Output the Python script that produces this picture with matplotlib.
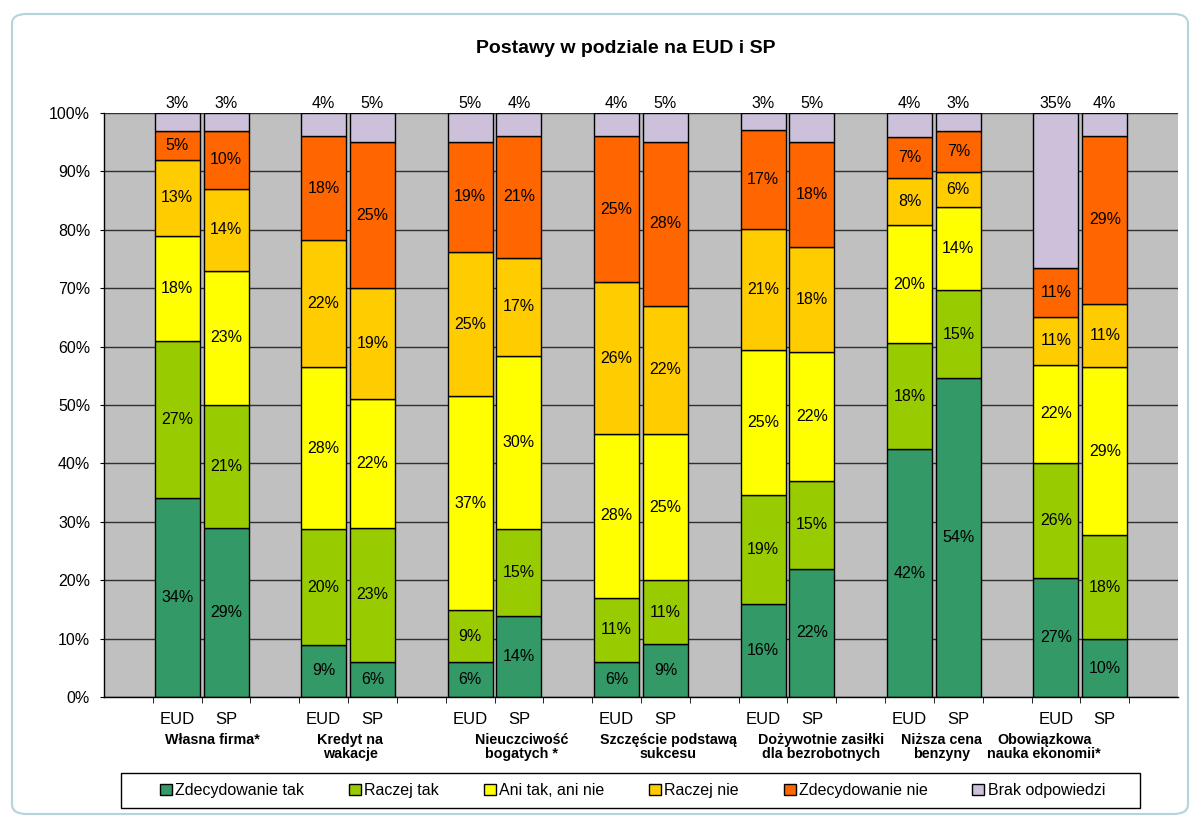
import numpy as np
import matplotlib.pyplot as plt
from matplotlib.patches import Patch, Rectangle, FancyBboxPatch

plt.rcParams['font.family'] = ['Liberation Sans', 'DejaVu Sans']

# dane
kategorie = ['Własna firma*', 'Kredyt na\nwakacje', 'Nieuczciwość\nbogatych *',
             'Szczęście podstawą\nsukcesu', 'Dożywotnie zasiłki\ndla bezrobotnych',
             'Niższa cena\nbenzyny', 'Obowiązkowa\nnauka ekonomii*']
grupy = ['EUD', 'SP']
odpowiedzi = ['Zdecydowanie tak', 'Raczej tak', 'Ani tak, ani nie',
              'Raczej nie', 'Zdecydowanie nie', 'Brak odpowiedzi']

# kolejnosc wartosci jak w odpowiedzi (od dolu do gory)
eud = [[34, 27, 18, 13, 5, 3],
       [9, 20, 28, 22, 18, 4],
       [6, 9, 37, 25, 19, 5],
       [6, 11, 28, 26, 25, 4],
       [16, 19, 25, 21, 17, 3],
       [42, 18, 20, 8, 7, 4],
       [27, 26, 22, 11, 11, 35]]
sp = [[29, 21, 23, 14, 10, 3],
      [6, 23, 22, 19, 25, 5],
      [14, 15, 30, 17, 21, 4],
      [9, 11, 25, 22, 28, 5],
      [22, 15, 22, 18, 18, 5],
      [54, 15, 14, 6, 7, 3],
      [10, 18, 29, 11, 29, 4]]

kolory = ['#339966', '#99CC00', '#FFFF00', '#FFCC00', '#FF6600', '#CCC0DA']

fig = plt.figure(figsize=(11.96, 8.22), dpi=100)
fig.patch.set_facecolor('white')

# ramka wykresu
fig.patches.append(FancyBboxPatch((12 / 1196, 1 - 814 / 822), 1176 / 1196, 800 / 822,
                                  boxstyle='round,pad=0,rounding_size=0.012',
                                  transform=fig.transFigure, facecolor='white',
                                  edgecolor='#b5d3dc', linewidth=1.5, zorder=-5))

ax = fig.add_axes([104 / 1196, 1 - 697 / 822, 1074 / 1196, 584 / 822])
ax.set_facecolor('#C0C0C0')


def rysuj_slupek(x, wartosci):
    suma = sum(wartosci)
    dol = 0
    for j, v in enumerate(wartosci):
        h = v / suma * 100
        ax.bar(x, h, bottom=dol, width=0.92, color=kolory[j], edgecolor='black',
               linewidth=1, zorder=3)
        if j == len(wartosci) - 1:
            ax.text(x, 100.4, f'{v}%', ha='center', va='bottom', fontsize=11.5, zorder=4)
        else:
            ax.text(x, dol + h / 2, f'{v}%', ha='center', va='center', fontsize=11.5, zorder=4)
        dol += h


pozycje = []
etykiety = []
for i in range(len(kategorie)):
    rysuj_slupek(3 * i + 1, eud[i])
    rysuj_slupek(3 * i + 2, sp[i])
    pozycje += [3 * i + 1, 3 * i + 2]
    etykiety += grupy

ax.set_xlim(-0.5, 3 * len(kategorie) + 0.5)
ax.set_ylim(0, 100)

ax.set_yticks(np.arange(0, 101, 10))
ax.set_yticklabels([f'{v}%' for v in range(0, 101, 10)], fontsize=11.5)
ax.yaxis.grid(True, color='#303030', linewidth=1, zorder=1)
ax.set_axisbelow(True)
ax.tick_params(axis='y', length=3, pad=7, color='black')

ax.set_xticks(pozycje)
ax.set_xticklabels(etykiety, fontsize=12)
ax.set_xticks(np.arange(0.5, 3 * len(kategorie), 1), minor=True)
ax.tick_params(axis='x', which='major', length=0, pad=11)
ax.tick_params(axis='x', which='minor', length=4, direction='out', color='black')

for s in ['top', 'right']:
    ax.spines[s].set_visible(False)
for s in ['left', 'bottom']:
    ax.spines[s].set_color('black')
    ax.spines[s].set_linewidth(1)
    ax.spines[s].set_zorder(5)

# podpisy kategorii
przesuniecia = [0.21, 0.04, 0.55, 0.56, 0.69, 0.15, -0.74]
for i, k in enumerate(kategorie):
    ax.text(3 * i + 1.5 + przesuniecia[i], -0.062, k, transform=ax.get_xaxis_transform(),
            ha='center', va='top', fontsize=10.3, fontweight='bold', linespacing=1.0)

ax.set_title('Postawy w podziale na EUD i SP', fontsize=14, fontweight='bold', pad=43,
             x=0.486)

# legenda
fig.patches.append(Rectangle((121 / 1196, 1 - 808 / 822), 1019 / 1196, 35 / 822,
                             transform=fig.transFigure, facecolor='white',
                             edgecolor='black', linewidth=1))
uchwyty = [Patch(facecolor=c, edgecolor='black', linewidth=1) for c in kolory]
fig.legend(uchwyty, odpowiedzi, loc='center', ncol=6, mode='expand',
           bbox_to_anchor=(160 / 1196, 1 - 808 / 822, 945 / 1196, 35 / 822),
           frameon=False, fontsize=11.5, handlelength=0.75, handleheight=0.75,
           handletextpad=0.2, borderaxespad=0, borderpad=0)

fig.savefig('out.png', dpi=100, facecolor='white')
